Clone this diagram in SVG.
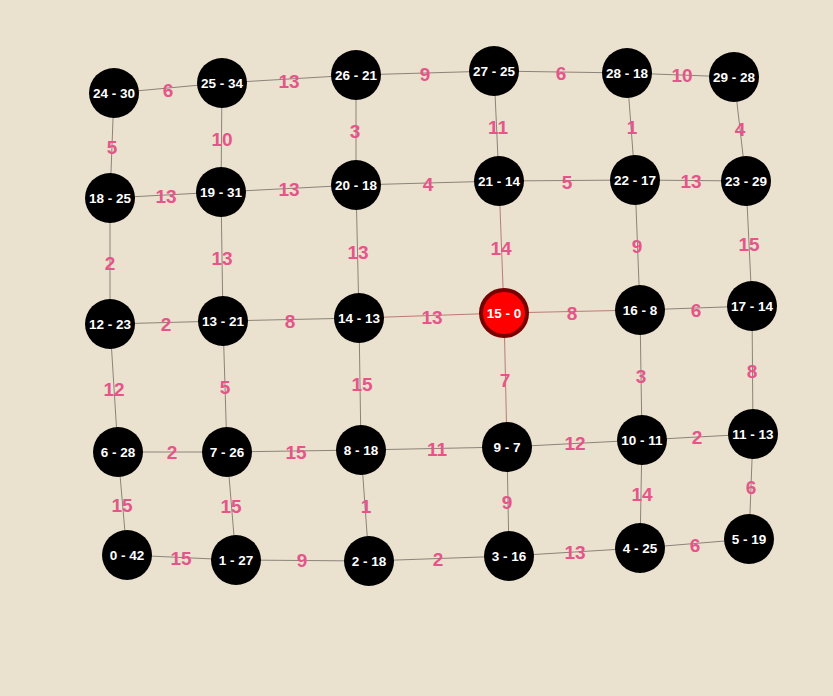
<svg xmlns="http://www.w3.org/2000/svg" width="833" height="696" viewBox="0 0 833 696">
<style>
.e{stroke:#8a8478;stroke-width:1;fill:none}
.er{stroke:#b87c74;stroke-width:1;fill:none}
.n{fill:#000}
.r{fill:#ff0000;stroke:#7a0000;stroke-width:4}
.t{font-family:"Liberation Sans",Arial,sans-serif;font-weight:bold;font-size:13.5px;fill:#fff;text-anchor:middle;dominant-baseline:central}
.w{font-family:"Liberation Sans",Arial,sans-serif;font-weight:bold;font-size:19px;fill:#e4558a;text-anchor:middle;dominant-baseline:central}
</style>
<rect width="833" height="696" fill="#ebe1cf"/>
<g id="connectors">
<line class="e" x1="114" y1="93" x2="222" y2="83"/>
<line class="e" x1="222" y1="83" x2="356" y2="75"/>
<line class="e" x1="356" y1="75" x2="494" y2="71"/>
<line class="e" x1="494" y1="71" x2="627" y2="73"/>
<line class="e" x1="627" y1="73" x2="734" y2="77"/>
<line class="e" x1="114" y1="93" x2="110" y2="198"/>
<line class="e" x1="222" y1="83" x2="221" y2="192"/>
<line class="e" x1="356" y1="75" x2="356" y2="185"/>
<line class="e" x1="494" y1="71" x2="499" y2="181"/>
<line class="e" x1="627" y1="73" x2="635" y2="180"/>
<line class="e" x1="734" y1="77" x2="746" y2="181"/>
<line class="e" x1="110" y1="198" x2="221" y2="192"/>
<line class="e" x1="221" y1="192" x2="356" y2="185"/>
<line class="e" x1="356" y1="185" x2="499" y2="181"/>
<line class="e" x1="499" y1="181" x2="635" y2="180"/>
<line class="e" x1="635" y1="180" x2="746" y2="181"/>
<line class="e" x1="110" y1="198" x2="110" y2="324"/>
<line class="e" x1="221" y1="192" x2="223" y2="321"/>
<line class="e" x1="356" y1="185" x2="359" y2="318"/>
<line class="er" x1="499" y1="181" x2="504" y2="313"/>
<line class="e" x1="635" y1="180" x2="640" y2="310"/>
<line class="e" x1="746" y1="181" x2="752" y2="306"/>
<line class="e" x1="110" y1="324" x2="223" y2="321"/>
<line class="e" x1="223" y1="321" x2="359" y2="318"/>
<line class="er" x1="359" y1="318" x2="504" y2="313"/>
<line class="er" x1="504" y1="313" x2="640" y2="310"/>
<line class="e" x1="640" y1="310" x2="752" y2="306"/>
<line class="e" x1="110" y1="324" x2="118" y2="452"/>
<line class="e" x1="223" y1="321" x2="227" y2="452"/>
<line class="e" x1="359" y1="318" x2="361" y2="450"/>
<line class="er" x1="504" y1="313" x2="507" y2="447"/>
<line class="e" x1="640" y1="310" x2="642" y2="440"/>
<line class="e" x1="752" y1="306" x2="753" y2="434"/>
<line class="e" x1="118" y1="452" x2="227" y2="452"/>
<line class="e" x1="227" y1="452" x2="361" y2="450"/>
<line class="e" x1="361" y1="450" x2="507" y2="447"/>
<line class="e" x1="507" y1="447" x2="642" y2="440"/>
<line class="e" x1="642" y1="440" x2="753" y2="434"/>
<line class="e" x1="118" y1="452" x2="127" y2="555"/>
<line class="e" x1="227" y1="452" x2="236" y2="560"/>
<line class="e" x1="361" y1="450" x2="369" y2="561"/>
<line class="e" x1="507" y1="447" x2="509" y2="556"/>
<line class="e" x1="642" y1="440" x2="640" y2="548"/>
<line class="e" x1="753" y1="434" x2="749" y2="539"/>
<line class="e" x1="127" y1="555" x2="236" y2="560"/>
<line class="e" x1="236" y1="560" x2="369" y2="561"/>
<line class="e" x1="369" y1="561" x2="509" y2="556"/>
<line class="e" x1="509" y1="556" x2="640" y2="548"/>
<line class="e" x1="640" y1="548" x2="749" y2="539"/>
</g>
<g id="edge-labels">
<text class="w" x="168" y="90">6</text>
<text class="w" x="289" y="81">13</text>
<text class="w" x="425" y="74">9</text>
<text class="w" x="561" y="73">6</text>
<text class="w" x="682" y="75">10</text>
<text class="w" x="112" y="147">5</text>
<text class="w" x="222" y="139">10</text>
<text class="w" x="355" y="131">3</text>
<text class="w" x="498" y="127">11</text>
<text class="w" x="632" y="127">1</text>
<text class="w" x="740" y="129">4</text>
<text class="w" x="166" y="196">13</text>
<text class="w" x="289" y="189">13</text>
<text class="w" x="428" y="184">4</text>
<text class="w" x="567" y="182">5</text>
<text class="w" x="691" y="181">13</text>
<text class="w" x="110" y="263">2</text>
<text class="w" x="222" y="258">13</text>
<text class="w" x="358" y="252">13</text>
<text class="w" x="501" y="248">14</text>
<text class="w" x="637" y="246">9</text>
<text class="w" x="749" y="244">15</text>
<text class="w" x="166" y="324">2</text>
<text class="w" x="290" y="321">8</text>
<text class="w" x="432" y="317">13</text>
<text class="w" x="572" y="313">8</text>
<text class="w" x="696" y="310">6</text>
<text class="w" x="114" y="389">12</text>
<text class="w" x="225" y="387">5</text>
<text class="w" x="362" y="384">15</text>
<text class="w" x="505" y="380">7</text>
<text class="w" x="641" y="376">3</text>
<text class="w" x="752" y="371">8</text>
<text class="w" x="172" y="452">2</text>
<text class="w" x="296" y="452">15</text>
<text class="w" x="437" y="449">11</text>
<text class="w" x="575" y="443">12</text>
<text class="w" x="697" y="437">2</text>
<text class="w" x="122" y="505">15</text>
<text class="w" x="231" y="506">15</text>
<text class="w" x="366" y="506">1</text>
<text class="w" x="507" y="502">9</text>
<text class="w" x="642" y="494">14</text>
<text class="w" x="751" y="487">6</text>
<text class="w" x="181" y="558">15</text>
<text class="w" x="302" y="560">9</text>
<text class="w" x="438" y="559">2</text>
<text class="w" x="575" y="552">13</text>
<text class="w" x="695" y="545">6</text>
</g>
<g id="n24"><circle class="n" cx="114" cy="93" r="25"/><text class="t" x="114" y="93">24 - 30</text></g>
<g id="n25"><circle class="n" cx="222" cy="83" r="25"/><text class="t" x="222" y="83">25 - 34</text></g>
<g id="n26"><circle class="n" cx="356" cy="75" r="25"/><text class="t" x="356" y="75">26 - 21</text></g>
<g id="n27"><circle class="n" cx="494" cy="71" r="25"/><text class="t" x="494" y="71">27 - 25</text></g>
<g id="n28"><circle class="n" cx="627" cy="73" r="25"/><text class="t" x="627" y="73">28 - 18</text></g>
<g id="n29"><circle class="n" cx="734" cy="77" r="25"/><text class="t" x="734" y="77">29 - 28</text></g>
<g id="n18"><circle class="n" cx="110" cy="198" r="25"/><text class="t" x="110" y="198">18 - 25</text></g>
<g id="n19"><circle class="n" cx="221" cy="192" r="25"/><text class="t" x="221" y="192">19 - 31</text></g>
<g id="n20"><circle class="n" cx="356" cy="185" r="25"/><text class="t" x="356" y="185">20 - 18</text></g>
<g id="n21"><circle class="n" cx="499" cy="181" r="25"/><text class="t" x="499" y="181">21 - 14</text></g>
<g id="n22"><circle class="n" cx="635" cy="180" r="25"/><text class="t" x="635" y="180">22 - 17</text></g>
<g id="n23"><circle class="n" cx="746" cy="181" r="25"/><text class="t" x="746" y="181">23 - 29</text></g>
<g id="n12"><circle class="n" cx="110" cy="324" r="25"/><text class="t" x="110" y="324">12 - 23</text></g>
<g id="n13"><circle class="n" cx="223" cy="321" r="25"/><text class="t" x="223" y="321">13 - 21</text></g>
<g id="n14"><circle class="n" cx="359" cy="318" r="25"/><text class="t" x="359" y="318">14 - 13</text></g>
<g id="n15"><circle class="r" cx="504" cy="313" r="23"/><text class="t" x="504" y="313">15 - 0</text></g>
<g id="n16"><circle class="n" cx="640" cy="310" r="25"/><text class="t" x="640" y="310">16 - 8</text></g>
<g id="n17"><circle class="n" cx="752" cy="306" r="25"/><text class="t" x="752" y="306">17 - 14</text></g>
<g id="n6"><circle class="n" cx="118" cy="452" r="25"/><text class="t" x="118" y="452">6 - 28</text></g>
<g id="n7"><circle class="n" cx="227" cy="452" r="25"/><text class="t" x="227" y="452">7 - 26</text></g>
<g id="n8"><circle class="n" cx="361" cy="450" r="25"/><text class="t" x="361" y="450">8 - 18</text></g>
<g id="n9"><circle class="n" cx="507" cy="447" r="25"/><text class="t" x="507" y="447">9 - 7</text></g>
<g id="n10"><circle class="n" cx="642" cy="440" r="25"/><text class="t" x="642" y="440">10 - 11</text></g>
<g id="n11"><circle class="n" cx="753" cy="434" r="25"/><text class="t" x="753" y="434">11 - 13</text></g>
<g id="n0"><circle class="n" cx="127" cy="555" r="25"/><text class="t" x="127" y="555">0 - 42</text></g>
<g id="n1"><circle class="n" cx="236" cy="560" r="25"/><text class="t" x="236" y="560">1 - 27</text></g>
<g id="n2"><circle class="n" cx="369" cy="561" r="25"/><text class="t" x="369" y="561">2 - 18</text></g>
<g id="n3"><circle class="n" cx="509" cy="556" r="25"/><text class="t" x="509" y="556">3 - 16</text></g>
<g id="n4"><circle class="n" cx="640" cy="548" r="25"/><text class="t" x="640" y="548">4 - 25</text></g>
<g id="n5"><circle class="n" cx="749" cy="539" r="25"/><text class="t" x="749" y="539">5 - 19</text></g>
</svg>
